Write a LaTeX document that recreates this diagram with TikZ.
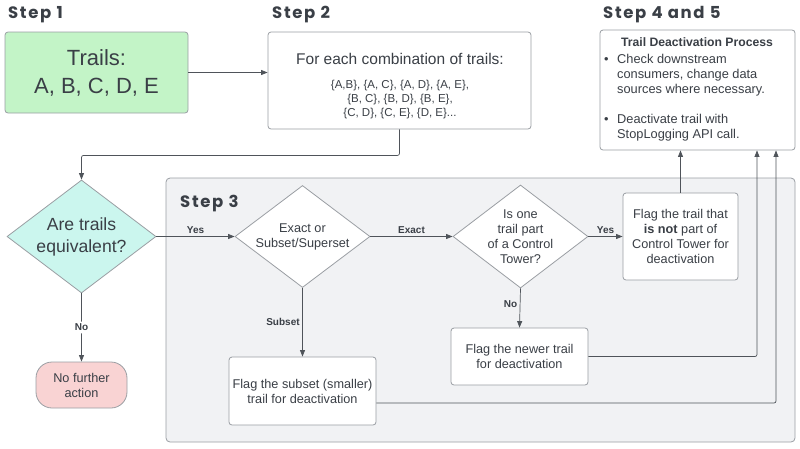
\documentclass[tikz,border=0pt]{standalone}
\usepackage{fontspec}
\setmainfont{Liberation Sans}
\newfontfamily\stepfont{Poppins}[LetterSpace=10]
\usetikzlibrary{arrows.meta,shapes.geometric}

\definecolor{txt}{HTML}{3A3F46}
\definecolor{wire}{HTML}{4F545A}
\definecolor{edge}{HTML}{9A9EA3}
\definecolor{trailgreen}{HTML}{C3F4C7}
\definecolor{equivcyan}{HTML}{CBF6EE}
\definecolor{stoppink}{HTML}{F9D3D3}
\definecolor{stepgray}{HTML}{F1F2F4}

\begin{document}
\begin{tikzpicture}[x=1pt,y=-1pt,
    card/.style={draw=edge, line width=0.8pt, rounded corners=3pt, fill=white, text=txt, align=center, inner sep=0pt, font=\fontsize{12.7}{15}\selectfont},
    decision/.style={diamond, aspect=1.32, draw=edge, line width=0.8pt, fill=white, text=txt, align=center, inner sep=0pt, font=\fontsize{12.7}{15}\selectfont},
    steplabel/.style={anchor=base west, inner sep=0pt, text=txt, font=\stepfont\bfseries\fontsize{16.5}{20}\selectfont},
    tag/.style={text=txt, font=\bfseries\fontsize{10}{12}\selectfont, inner sep=2.5pt},
    flow/.style={draw=wire, line width=0.7pt, -{Triangle[length=6.5pt,width=5pt]}, rounded corners=2pt}]
    \useasboundingbox (0,0) rectangle (800,448);

% step 3 frame
    \draw[draw=edge, fill=stepgray, line width=0.8pt, rounded corners=4pt] (166,178) rectangle (795,442);

    \node[steplabel] (s1) at (8,18) {Step 1};
    \node[steplabel] (s2) at (272,18) {Step 2};
    \node[steplabel] (s3) at (180,207) {Step 3};
    \node[steplabel] (s45) at (603,18) {Step 4 and 5};

    \node[card, fill=trailgreen, minimum width=183pt, minimum height=81pt, font=\fontsize{22}{28}\selectfont] (trails) at (96.5,72.5) {Trails:\\A, B, C, D, E};

    \node[card, minimum width=263pt, minimum height=97pt] (combos) at (399.5,80.5) {};
    \node[text=txt, font=\fontsize{15.5}{18}\selectfont, anchor=base] (combotitle) at (400,64) {For each combination of trails:};
    \node[text=txt, align=center, font=\fontsize{11.5}{14}\selectfont] (combolist) at (400,100) {\{A,B\}, \{A, C\}, \{A, D\}, \{A, E\},\\\{B, C\}, \{B, D\}, \{B, E\},\\\{C, D\}, \{C, E\}, \{D, E\}...};

    \node[card, minimum width=195pt, minimum height=120pt] (deact) at (697.5,90) {};
    \node[text=txt, font=\bfseries\fontsize{12.2}{15}\selectfont] (deacttitle) at (697,42.5) {Trail Deactivation Process};
    \node[text=txt, align=left, anchor=north west, inner sep=0pt, font=\fontsize{12.8}{15}\selectfont] (deactsteps) at (604,54)
        {\makebox[13pt][l]{•}Check downstream\\\hspace*{13pt}consumers, change data\\\hspace*{13pt}sources where necessary.\\[15pt]\makebox[13pt][l]{•}Deactivate trail with\\\hspace*{13pt}StopLogging API call.};

    \node[decision, fill=equivcyan, minimum width=149pt, minimum height=113pt, font=\fontsize{17.6}{22}\selectfont] (equiv) at (81.5,236.5) {Are trails\\equivalent?};
    \node[card, fill=stoppink, rounded corners=16pt, minimum width=91pt, minimum height=46pt] (noaction) at (81.5,385) {No further\\action};

    \node[decision, minimum width=135pt, minimum height=102pt] (exact) at (302.5,236.5) {Exact or\\Subset/Superset};
    \node[decision, inner sep=-4pt, minimum width=135pt, minimum height=103pt] (ctower) at (520.5,236.5) {Is one\\trail part\\of a Control\\Tower?};

    \node[card, minimum width=115pt, minimum height=87pt] (notct) at (680.5,236.5) {Flag the trail that\\\textbf{is not} part of\\Control Tower for\\deactivation};
    \node[card, minimum width=137pt, minimum height=57pt] (newer) at (519.5,356.5) {Flag the newer trail\\for deactivation};
    \node[card, minimum width=147pt, minimum height=68pt] (subsetbox) at (302.5,391) {Flag the subset (smaller)\\trail for deactivation};

    \coordinate (inA) at ([xshift=59.5pt]deact.south);
    \coordinate (inB) at ([xshift=78.5pt]deact.south);

    \draw[flow] (trails.east) -- (trails.east -| combos.west);
    \draw[flow] (combos.south) -- ++(0,26) -| (equiv.north);
    \draw[flow] (equiv.east) -- node[tag, above]{Yes} (exact.west);
    \draw[flow] (equiv.south) -- node[tag, fill=white]{No} (noaction.north);
    \draw[flow] (exact.east) -- node[tag, above]{Exact} (ctower.west);
    \draw[flow] (exact.south) -- node[tag, left]{Subset} (subsetbox.north);
    \draw[flow] (ctower.east) -- node[tag, above]{Yes} (notct.west);
    \draw[flow] (ctower.south) -- node[tag, left, pos=0.4]{No} (newer.north);
    \draw[flow] (notct.north) -- (notct.north |- deact.south);
    \draw[flow] (newer.east) -| (inA);
    \draw[flow] ([yshift=-12pt]subsetbox.east) -| (inB);

\end{tikzpicture}
\end{document}
